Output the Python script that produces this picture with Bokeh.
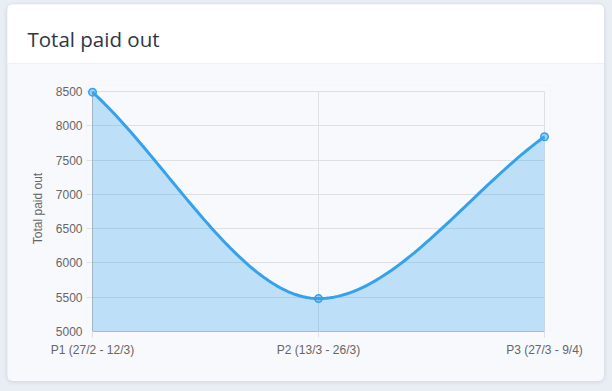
import numpy as np
from bokeh.plotting import figure
from bokeh.layouts import column
from bokeh.models import (Label, FixedTicker, Range1d, ColumnDataSource, Grid,
                          GlobalInlineStyleSheet)
from bokeh.embed import file_html
from bokeh.resources import INLINE

# ---- data ----
periods = ["P1 (27/2 - 12/3)", "P2 (13/3 - 26/3)", "P3 (27/3 - 9/4)"]
paid_out = [8490, 5480, 7840]
y_ticks = [5000, 5500, 6000, 6500, 7000, 7500, 8000, 8500]
chart_title = "Total paid out"
y_title = "Total paid out"

xs = list(range(len(periods)))


def monotone_path(x, y, n=60):
    """Chart.js-style monotone cubic interpolation through the data points."""
    x = np.asarray(x, float)
    y = np.asarray(y, float)
    k = len(x)
    d = np.diff(y) / np.diff(x)
    m = np.zeros(k)
    m[0], m[-1] = d[0], d[-1]
    for i in range(1, k - 1):
        m[i] = 0.0 if d[i - 1] * d[i] <= 0 else (d[i - 1] + d[i]) / 2
    for i in range(k - 1):
        if d[i] == 0:
            m[i] = m[i + 1] = 0
            continue
        a, b = m[i] / d[i], m[i + 1] / d[i]
        s = a * a + b * b
        if s > 9:
            t = 3 / np.sqrt(s)
            m[i], m[i + 1] = t * a * d[i], t * b * d[i]
    px, py = [], []
    t = np.linspace(0, 1, n)
    for i in range(k - 1):
        dx = (x[i + 1] - x[i]) / 3
        p0 = (x[i], y[i])
        p1 = (x[i] + dx, y[i] + m[i] * dx)
        p2 = (x[i + 1] - dx, y[i + 1] - m[i + 1] * dx)
        p3 = (x[i + 1], y[i + 1])
        bx = ((1 - t) ** 3) * p0[0] + 3 * ((1 - t) ** 2) * t * p1[0] + 3 * (1 - t) * t * t * p2[0] + t ** 3 * p3[0]
        by = ((1 - t) ** 3) * p0[1] + 3 * ((1 - t) ** 2) * t * p1[1] + 3 * (1 - t) * t * t * p2[1] + t ** 3 * p3[1]
        if i > 0:
            bx, by = bx[1:], by[1:]
        px.extend(bx)
        py.extend(by)
    return np.array(px), np.array(py)


cx, cy = monotone_path(xs, paid_out)
curve = ColumnDataSource(dict(x=cx, y=cy, base=np.full(len(cx), y_ticks[0])))
pts = ColumnDataSource(dict(x=xs, y=paid_out))

CARD_W = 597
HEAD_H = 59
BODY_H = 318
body_bg = "#f8f9fc"

# plot-area geometry (pixels) and a small pad so end markers are not clipped
PLOT_L, PLOT_R, PLOT_T, PLOT_B = 85, 60, 28, 50
PAD = 6
TICK = 6
plot_w = CARD_W - PLOT_L - PLOT_R
plot_h = BODY_H - PLOT_T - PLOT_B
x_lo, x_hi = xs[0], xs[-1]
y_lo, y_hi = y_ticks[0], y_ticks[-1]
x_per_px = (x_hi - x_lo) / plot_w
y_per_px = (y_hi - y_lo) / plot_h

# ---- header (white band with title) ----
head = figure(width=CARD_W, height=HEAD_H, title=None,
              x_range=Range1d(0, 1), y_range=Range1d(0, 1),
              x_axis_location=None, y_axis_location=None,
              output_backend="svg", toolbar_location=None,
              min_border_left=0, min_border_right=0,
              min_border_top=0, min_border_bottom=0)
head.frame_align = False
head.background_fill_color = "white"
head.border_fill_color = "white"
head.outline_line_color = None
head.xgrid.visible = False
head.ygrid.visible = False
head.add_layout(Label(x=20, y=HEAD_H - 34.5, x_units="screen", y_units="screen",
                      text=chart_title, text_font="Open Sans", text_font_size="20.5px",
                      text_color="#2d3748", text_baseline="alphabetic", text_align="left"))

# ---- body (chart) ----
p = figure(width=CARD_W, height=BODY_H,
           x_range=Range1d(x_lo - PAD * x_per_px, x_hi + PAD * x_per_px),
           y_range=Range1d(y_lo, y_hi + PAD * y_per_px),
           output_backend="svg", toolbar_location=None,
           min_border_left=PLOT_L - PAD, min_border_right=PLOT_R - PAD,
           min_border_top=PLOT_T - PAD, min_border_bottom=PLOT_B)
p.frame_align = False
p.border_fill_color = body_bg
p.background_fill_color = body_bg
p.outline_line_color = None

grid_c = "#dfe0e3"
axis_c = "#b5b7ba"

# grids limited to the data box (horizontal ones reach out as the y tick marks)
p.xgrid.ticker = FixedTicker(ticks=xs)
p.ygrid.ticker = FixedTicker(ticks=y_ticks)
p.xgrid.cross_bounds = (y_lo, y_hi)
p.ygrid.cross_bounds = (x_lo - TICK * x_per_px, x_hi)
for g in (p.xgrid, p.ygrid):
    g.grid_line_color = grid_c
    g.grid_line_width = 1
# left axis line at the first category
p.add_layout(Grid(dimension=0, ticker=FixedTicker(ticks=[x_lo]),
                  cross_bounds=(y_lo, y_hi), grid_line_color=axis_c, grid_line_width=1))

p.varea(x="x", y1="base", y2="y", source=curve, fill_color="#36a2eb", fill_alpha=0.3)
p.line(x="x", y="y", source=curve, line_color="#36a2eb", line_width=3)
p.scatter(x="x", y="y", source=pts, size=7.5, fill_color="#36a2eb", fill_alpha=0.45,
          line_color="#36a2eb", line_width=1.5)

p.yaxis.ticker = FixedTicker(ticks=y_ticks)
p.xaxis.ticker = FixedTicker(ticks=xs)
p.xaxis.major_label_overrides = {i: lab for i, lab in enumerate(periods)}
p.xaxis.bounds = (x_lo, x_hi)

for ax in (p.xaxis, p.yaxis):
    ax.minor_tick_line_color = None
    ax.major_label_text_font = "Liberation Sans"
    ax.major_label_text_font_size = "12px"
    ax.major_label_text_color = "#666666"

p.xaxis.axis_line_color = axis_c
p.xaxis.major_tick_line_color = grid_c
p.xaxis.major_tick_out = TICK
p.xaxis.major_tick_in = 0
p.xaxis.major_label_standoff = 5

p.yaxis.axis_line_color = None
p.yaxis.major_tick_line_color = None
p.yaxis.major_tick_out = 0
p.yaxis.major_tick_in = 0
p.yaxis.major_label_standoff = TICK + 4 - PAD
p.yaxis.axis_label = y_title
p.yaxis.axis_label_text_font = "Liberation Sans"
p.yaxis.axis_label_text_font_size = "12px"
p.yaxis.axis_label_text_font_style = "normal"
p.yaxis.axis_label_text_color = "#666666"
p.yaxis.axis_label_standoff = 8

page_css = GlobalInlineStyleSheet(css="html, body { background: #e9edf4; }")
card = column(head, p, spacing=0,
              stylesheets=[page_css],
              styles={"margin-left": "7px", "margin-top": "4px",
                      "border-radius": "6px", "overflow": "hidden",
                      "box-shadow": "0 1px 4px rgba(40, 60, 90, 0.14)"})

open("out.html", "w").write(file_html(card, INLINE))
